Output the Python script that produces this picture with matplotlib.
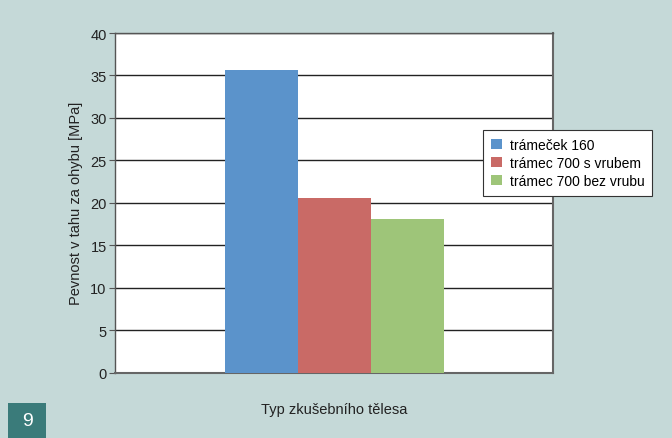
import matplotlib.pyplot as plt
from matplotlib.patches import Rectangle

plt.rcParams['font.family'] = ['Liberation Sans', 'DejaVu Sans']

# data
series = ['trámeček 160', 'trámec 700 s vrubem', 'trámec 700 bez vrubu']
values = [35.6, 20.6, 18.1]
colors = ['#5b93cb', '#c96a66', '#9ec579']
yticks = [0, 5, 10, 15, 20, 25, 30, 35, 40]

bg = '#c5d9d8'

fig = plt.figure(figsize=(6.72, 4.39), dpi=100, facecolor=bg)
ax = fig.add_axes([115/672, 1 - 373.5/439, 438/672, 339.5/439])
ax.set_facecolor('white')

w = 1/6
for i, (name, v, c) in enumerate(zip(series, values, colors)):
    ax.bar((i - 1) * w, v, width=w, color=c, label=name, zorder=3)

ax.set_xlim(-0.5, 0.5)
ax.set_ylim(0, 40)
ax.set_yticks(yticks)
ax.set_xticks([])
ax.yaxis.grid(True, color='#222222', linewidth=1.0, zorder=0)
ax.tick_params(axis='y', length=4, width=0.8, color='#555555', labelsize=10.5, labelcolor='#222222', pad=2)
for s in ax.spines.values():
    s.set_color('#555555')
    s.set_linewidth(1.0)
ax.spines['right'].set_color('#666666')
ax.spines['right'].set_linewidth(1.5)
ax.spines['bottom'].set_color('#666666')
ax.spines['bottom'].set_linewidth(1.5)

ax.set_ylabel('Pevnost v tahu za ohybu [MPa]', fontsize=10.5, color='#222222', labelpad=5)
fig.text(334/672, 1 - 410/439, 'Typ zkušebního tělesa', ha='center', va='center',
         fontsize=10.5, color='#222222')

leg = fig.legend(loc='upper left', bbox_to_anchor=(483/672, 1 - 131/439), fontsize=10,
                 frameon=True, fancybox=False, handlelength=0.8, handleheight=0.8,
                 handletextpad=0.6, borderpad=0.55, labelspacing=0.3, borderaxespad=0)
leg.get_frame().set_edgecolor('#333333')
leg.get_frame().set_linewidth(0.8)
leg.get_frame().set_alpha(1)

fig.patches.append(Rectangle((8/672, 0), 38/672, 35/439, transform=fig.transFigure,
                             facecolor='#3a7b7a', edgecolor='none'))
fig.text(27/672, 1 - 422/439, '9', ha='center', va='center', fontsize=14, color='white')

fig.savefig('out.png', dpi=100, facecolor=bg)
